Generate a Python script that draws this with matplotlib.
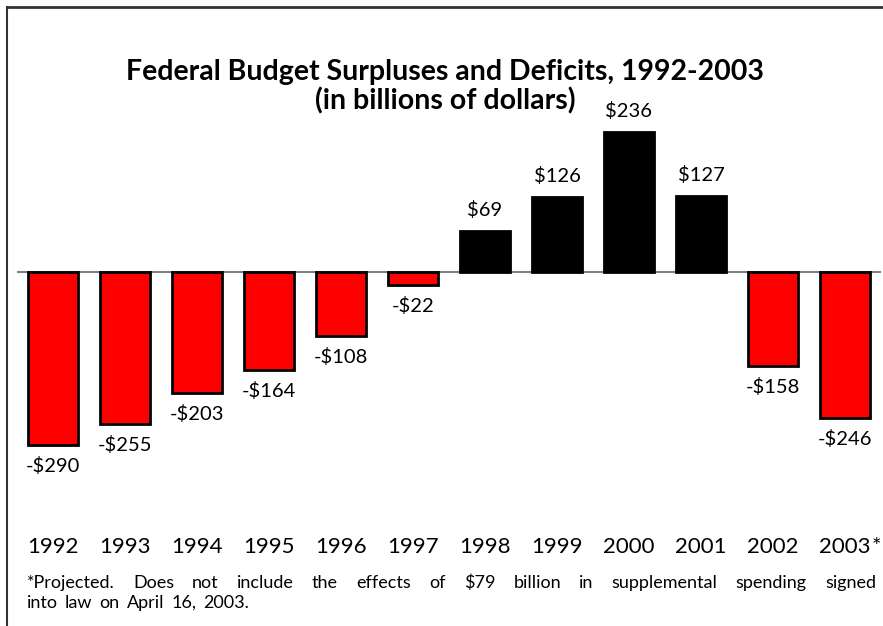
import matplotlib
matplotlib.use('Agg')
import matplotlib.pyplot as plt
from matplotlib.lines import Line2D
import matplotlib.transforms as mtransforms

plt.rcParams['font.family'] = ['Lato', 'DejaVu Sans']

years = ['1992', '1993', '1994', '1995', '1996', '1997',
         '1998', '1999', '2000', '2001', '2002', '2003*']
balance = [-290, -255, -203, -164, -108, -22, 69, 126, 236, 127, -158, -246]

title_1 = 'Federal Budget Surpluses and Deficits, 1992-2003'
title_2 = '(in billions of dollars)'
note_1 = ('*Projected. Does not include the effects of $79 billion in '
          'supplemental spending signed')
note_2 = 'into law on April 16, 2003.'

W, H = 883, 626
fig = plt.figure(figsize=(W / 100, H / 100), dpi=100)
fig.patch.set_facecolor('white')
renderer = fig.canvas.get_renderer()

# axes in pixel terms: x 17..881, zero line at y=272, ~0.595 px per $bn
zero_px = 272
scale = 0.595
top_px, bot_px = 100, 520
ax = fig.add_axes([17 / W, 1 - bot_px / H, 864 / W, (bot_px - top_px) / H])
ax.set_xlim(-0.5, len(years) - 0.5)
ax.set_ylim(-(bot_px - zero_px) / scale, (zero_px - top_px) / scale)
ax.axis('off')

ax.axhline(0, color='#808080', lw=1.5, zorder=1)
colors = ['black' if v > 0 else '#ff0000' for v in balance]
ax.bar(range(len(years)), balance, width=0.69, color=colors,
       edgecolor='black', linewidth=2, zorder=2)

for i, v in enumerate(balance):
    lab = f'${v}' if v > 0 else f'-${-v}'
    off = 21 if v > 0 else -21
    ax.annotate(lab, (i, v), xytext=(0, off), textcoords='offset pixels',
                ha='center', va='center', fontsize=14.5, color='black')

# year labels: digits centred under each bar, a trailing * hangs to the right
year_tr = mtransforms.blended_transform_factory(ax.transData, fig.transFigure)
for i, y in enumerate(years):
    digits = y.rstrip('*')
    t = ax.text(i, 1 - 553 / H, digits, fontsize=16, ha='center', va='baseline',
                transform=year_tr)
    if y.endswith('*'):
        half = t.get_window_extent(renderer).width / 2
        star_tr = mtransforms.offset_copy(year_tr, fig=fig, x=half + 1, y=0, units='dots')
        ax.text(i, 1 - 553 / H, '*', fontsize=16, ha='left', va='baseline',
                transform=star_tr)

fig.text(445 / W, 1 - 72 / H, title_1, ha='center', va='center',
         fontsize=20.5, fontweight='bold')
fig.text(445 / W, 1 - 101 / H, title_2, ha='center', va='center',
         fontsize=20.5, fontweight='bold')

# footnote: first line justified, second line a bit loosely spaced
x0, x1 = 27, 876


def place_words(text, base_px, gap=None):
    words = text.split(' ')
    objs = [fig.text(0, 1 - base_px / H, w, fontsize=13, ha='left', va='baseline')
            for w in words]
    widths = [o.get_window_extent(renderer).width for o in objs]
    if gap is None:
        gap = (x1 - x0 - sum(widths)) / (len(words) - 1)
    x = x0
    for o, w in zip(objs, widths):
        o.set_x(x / W)
        x += w + gap


place_words(note_1, 588)
place_words(note_2, 608, gap=7)

# frame on top and left
fig.add_artist(Line2D([7 / W, 1], [1 - 7 / H, 1 - 7 / H], transform=fig.transFigure,
                      color='#333333', lw=2))
fig.add_artist(Line2D([7 / W, 7 / W], [0, 1 - 7 / H], transform=fig.transFigure,
                      color='#333333', lw=1.5))

fig.savefig('out.png', dpi=100)
